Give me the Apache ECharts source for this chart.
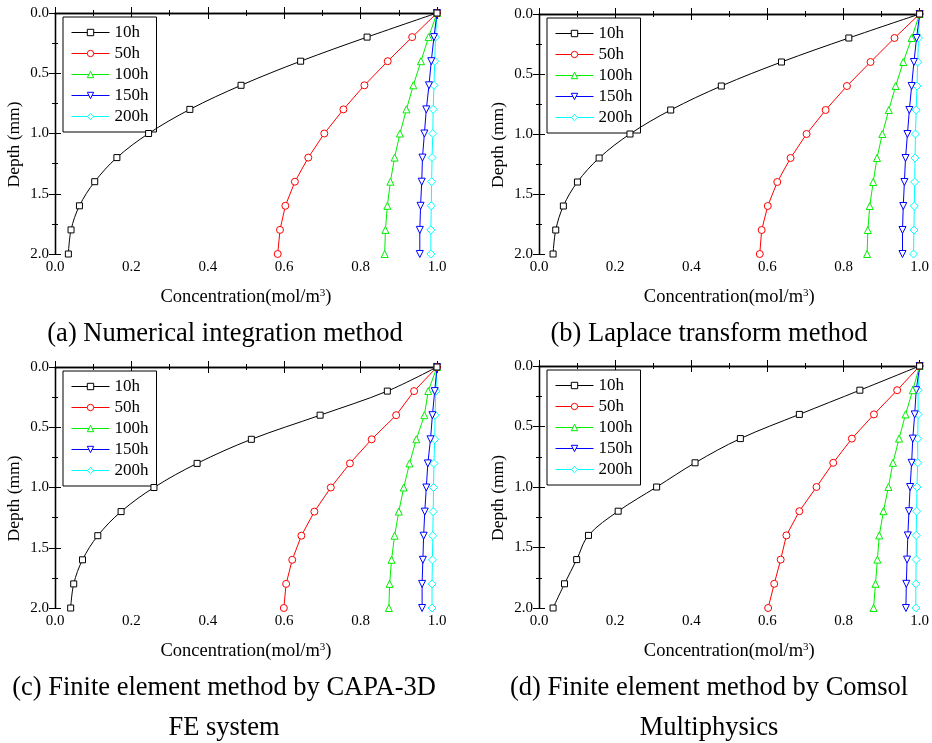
<!DOCTYPE html>
<html>
<head>
<meta charset="utf-8">
<script src="https://cdn.jsdelivr.net/npm/echarts@6/dist/echarts.min.js"></script>
<style>html,body{margin:0;padding:0;background:#fff}#c{width:932px;height:743px}</style>
</head>
<body>
<div id="c"></div>
<script>
// ---- data ----
const depth = [0, 0.2, 0.4, 0.6, 0.8, 1.0, 1.2, 1.4, 1.6, 1.8, 2.0];
const seriesNames = ['10h', '50h', '100h', '150h', '200h'];
const xTicks = ['0.0', '0.2', '0.4', '0.6', '0.8', '1.0'];
const yTicks = ['0.0', '0.5', '1.0', '1.5', '2.0'];

// (a) Numerical integration method
const a_10h  = [1.0, 0.817, 0.643, 0.487, 0.353, 0.245, 0.162, 0.104, 0.064, 0.042, 0.035];
const a_50h  = [1.0, 0.935, 0.871, 0.810, 0.755, 0.705, 0.663, 0.628, 0.603, 0.589, 0.583];
const a_100h = [1.0, 0.978, 0.958, 0.938, 0.920, 0.903, 0.889, 0.878, 0.870, 0.865, 0.863];
const a_150h = [1.0, 0.992, 0.985, 0.979, 0.972, 0.967, 0.962, 0.960, 0.957, 0.955, 0.955];
const a_200h = [1.0, 0.996, 0.994, 0.992, 0.990, 0.989, 0.987, 0.986, 0.985, 0.984, 0.984];

// (b) Laplace transform method
const b_10h  = [1.0, 0.814, 0.637, 0.479, 0.346, 0.239, 0.158, 0.101, 0.064, 0.044, 0.037];
const b_50h  = [1.0, 0.934, 0.871, 0.809, 0.753, 0.703, 0.661, 0.626, 0.601, 0.585, 0.580];
const b_100h = [1.0, 0.979, 0.957, 0.937, 0.919, 0.902, 0.888, 0.878, 0.869, 0.864, 0.862];
const b_150h = [1.0, 0.992, 0.985, 0.979, 0.973, 0.968, 0.963, 0.960, 0.957, 0.955, 0.955];
const b_200h = [1.0, 0.997, 0.995, 0.993, 0.991, 0.989, 0.988, 0.987, 0.986, 0.985, 0.984];

// (c) Finite element method by CAPA-3D FE system
const c_10h  = [1.0, 0.870, 0.694, 0.514, 0.372, 0.259, 0.173, 0.112, 0.072, 0.049, 0.041];
const c_50h  = [1.0, 0.940, 0.893, 0.829, 0.772, 0.722, 0.679, 0.645, 0.621, 0.605, 0.599];
const c_100h = [1.0, 0.977, 0.967, 0.946, 0.928, 0.913, 0.900, 0.889, 0.881, 0.876, 0.874];
const c_150h = [1.0, 0.994, 0.988, 0.983, 0.976, 0.972, 0.968, 0.965, 0.963, 0.961, 0.961];
const c_200h = [1.0, 0.997, 0.995, 0.994, 0.992, 0.991, 0.990, 0.989, 0.988, 0.987, 0.987];

// (d) Finite element method by Comsol Multiphysics
const d_10h  = [1.0, 0.843, 0.684, 0.529, 0.410, 0.309, 0.208, 0.130, 0.099, 0.067, 0.037];
const d_50h  = [1.0, 0.941, 0.880, 0.822, 0.773, 0.729, 0.684, 0.650, 0.635, 0.618, 0.602];
const d_100h = [1.0, 0.982, 0.963, 0.946, 0.930, 0.918, 0.905, 0.894, 0.889, 0.884, 0.879];
const d_150h = [1.0, 0.991, 0.987, 0.982, 0.979, 0.975, 0.972, 0.969, 0.967, 0.965, 0.964];
const d_200h = [1.0, 0.996, 0.996, 0.995, 0.995, 0.993, 0.992, 0.991, 0.991, 0.990, 0.990];

const panelData = [
  [a_10h, a_50h, a_100h, a_150h, a_200h],
  [b_10h, b_50h, b_100h, b_150h, b_200h],
  [c_10h, c_50h, c_100h, c_150h, c_200h],
  [d_10h, d_50h, d_100h, d_150h, d_200h]
];
const captions = [
  ['(a) Numerical integration method'],
  ['(b) Laplace transform method'],
  ['(c) Finite element method by CAPA-3D', 'FE system'],
  ['(d) Finite element method by Comsol', 'Multiphysics']
];

// ---- styles ----
const FONT = '"Liberation Serif", "Times New Roman", serif';
const colors = ['#000000', '#ff0000', '#00ee00', '#0000ff', '#00ffff'];
const symbols = ['rect', 'circle', 'triangle', 'triangle', 'diamond'];
const symbolRot = [0, 0, 0, 180, 0];
const symbolSizes = [6, 7, 7, 7, 8];

const grids = [
  {left: 55, top: 13, width: 382, height: 241},
  {left: 539, top: 14, width: 381, height: 240},
  {left: 55, top: 367, width: 382, height: 241},
  {left: 539, top: 366, width: 381, height: 242}
];
const captionPos = [
  {x: 225, y: 334}, {x: 709, y: 334},
  {x: 224, y: 688}, {x: 709, y: 688}
];

const option = {
  backgroundColor: '#fff',
  animation: false,
  grid: grids.map(g => Object.assign({containLabel: false}, g)),
  xAxis: [], yAxis: [], series: [], legend: [], graphic: []
};

grids.forEach((g, p) => {
  const axLine = {show: true, lineStyle: {color: '#000', width: 1.3}};
  option.xAxis.push({
    type: 'value', gridIndex: p, min: 0, max: 1, interval: 0.2, position: 'bottom',
    axisLine: axLine,
    axisTick: {show: true, inside: true, length: 6, lineStyle: {color: '#000'}},
    minorTick: {show: true, splitNumber: 2, length: 3, lineStyle: {color: '#000'}},
    splitLine: {show: false},
    axisLabel: {margin: 6, fontFamily: FONT, fontSize: 15, color: '#000',
      formatter: v => xTicks[Math.round(v / 0.2)]},
    name: 'Concentration(mol/m{sup|3})', nameLocation: 'middle', nameGap: 34,
    nameTextStyle: {fontFamily: FONT, fontSize: 18.5, color: '#000',
      rich: {sup: {fontFamily: FONT, fontSize: 11, color: '#000', verticalAlign: 'top', lineHeight: 18}}}
  });
  option.xAxis.push({
    type: 'value', gridIndex: p, min: 0, max: 1, interval: 0.2, position: 'top',
    axisLine: axLine,
    axisTick: {show: true, inside: true, length: 6, lineStyle: {color: '#000'}},
    minorTick: {show: true, splitNumber: 2, length: 3, lineStyle: {color: '#000'}},
    splitLine: {show: false}, axisLabel: {show: false}
  });
  option.yAxis.push({
    type: 'value', gridIndex: p, min: 0, max: 2, interval: 0.5, inverse: true, position: 'left',
    axisLine: axLine,
    axisTick: {show: true, inside: true, length: 6, lineStyle: {color: '#000'}},
    minorTick: {show: true, splitNumber: 2, length: 3, lineStyle: {color: '#000'}},
    splitLine: {show: false},
    axisLabel: {margin: 6, fontFamily: FONT, fontSize: 15, color: '#000',
      formatter: v => yTicks[Math.round(v / 0.5)]},
    name: 'Depth (mm)', nameLocation: 'middle', nameGap: 32, nameRotate: 90,
    nameTextStyle: {fontFamily: FONT, fontSize: 17.5, color: '#000', padding: [0, 22, 0, 0]}
  });
  option.yAxis.push({
    type: 'value', gridIndex: p, min: 0, max: 2, interval: 0.5, inverse: true, position: 'right',
    axisLine: axLine,
    axisTick: {show: true, inside: true, length: 6, lineStyle: {color: '#000'}},
    minorTick: {show: true, splitNumber: 2, length: 3, lineStyle: {color: '#000'}},
    splitLine: {show: false}, axisLabel: {show: false}
  });

  seriesNames.forEach((name, s) => {
    option.series.push({
      type: 'line', name: name,
      xAxisIndex: 2 * p, yAxisIndex: 2 * p,
      data: depth.map((d, i) => [panelData[p][s][i], d]),
      smooth: s === 0 ? 0.35 : false,
      symbol: symbols[s], symbolRotate: symbolRot[s], symbolSize: symbolSizes[s],
      showAllSymbol: true,
      lineStyle: {color: colors[s], width: 1},
      itemStyle: {color: '#fff', borderColor: colors[s], borderWidth: 1},
      z: 10 - s
    });
  });

  option.legend.push({
    orient: 'vertical', left: g.left + 8, top: g.top + 4,
    data: seriesNames, selectedMode: false,
    backgroundColor: '#fff', borderColor: '#000', borderWidth: 1,
    padding: [7, 8, 7, 8], itemGap: 4, itemWidth: 38, itemHeight: 8,
    itemStyle: {borderWidth: 1},
    lineStyle: {width: 1},
    textStyle: {fontFamily: FONT, fontSize: 17, color: '#000'}
  });

  captions[p].forEach((line, li) => {
    option.graphic.push({
      type: 'text', x: captionPos[p].x, y: captionPos[p].y + li * 40,
      style: {text: line, font: '26.5px ' + FONT, fill: '#000', align: 'center', verticalAlign: 'middle'}
    });
  });
});

const chart = echarts.init(document.getElementById('c'), null, {renderer: 'canvas'});
chart.setOption(option);
</script>
</body>
</html>
